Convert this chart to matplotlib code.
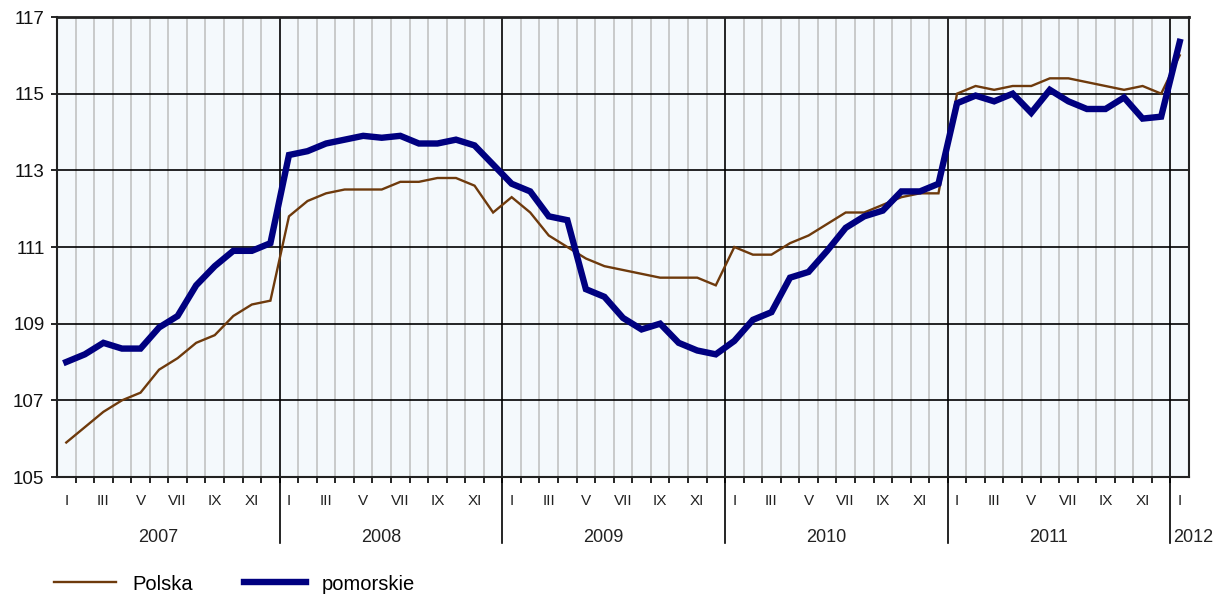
import matplotlib
matplotlib.use("Agg")
import matplotlib.pyplot as plt
from matplotlib.lines import Line2D

plt.rcParams['font.family'] = ['Liberation Sans', 'DejaVu Sans']

years = ["2007", "2008", "2009", "2010", "2011", "2012"]
months = ["I", "II", "III", "IV", "V", "VI", "VII", "VIII", "IX", "X", "XI", "XII"]

polska = [
    105.9, 106.3, 106.7, 107.0, 107.2, 107.8, 108.1, 108.5, 108.7, 109.2, 109.5, 109.6,
    111.8, 112.2, 112.4, 112.5, 112.5, 112.5, 112.7, 112.7, 112.8, 112.8, 112.6, 111.9,
    112.3, 111.9, 111.3, 111.0, 110.7, 110.5, 110.4, 110.3, 110.2, 110.2, 110.2, 110.0,
    111.0, 110.8, 110.8, 111.1, 111.3, 111.6, 111.9, 111.9, 112.1, 112.3, 112.4, 112.4,
    115.0, 115.2, 115.1, 115.2, 115.2, 115.4, 115.4, 115.3, 115.2, 115.1, 115.2, 115.0,
    116.0,
]
pomorskie = [
    108.0, 108.2, 108.5, 108.35, 108.35, 108.9, 109.2, 110.0, 110.5, 110.9, 110.9, 111.1,
    113.4, 113.5, 113.7, 113.8, 113.9, 113.85, 113.9, 113.7, 113.7, 113.8, 113.65, 113.15,
    112.65, 112.45, 111.8, 111.7, 109.9, 109.7, 109.15, 108.85, 109.0, 108.5, 108.3, 108.2,
    108.55, 109.1, 109.3, 110.2, 110.35, 110.9, 111.5, 111.8, 111.95, 112.45, 112.45, 112.65,
    114.75, 114.95, 114.8, 115.0, 114.5, 115.1, 114.8, 114.6, 114.6, 114.9, 114.35, 114.4,
    116.35,
]
y_ticks = [105, 107, 109, 111, 113, 115, 117]

n = len(polska)
x = list(range(n))
month_labels = [months[i % 12] for i in range(n)]

W, H = 1218, 594
fig = plt.figure(figsize=(W / 100, H / 100), dpi=100)
ax = fig.add_axes([57 / W, 1 - 477 / H, (1189 - 57) / W, (477 - 17) / H])
ax.set_facecolor('#F4F9FC')

ax.set_xlim(-0.5, n - 0.5)
ax.set_ylim(105, 117)

# month gridlines (gray) and year lines (black)
for b in range(n - 1):
    pos = b + 0.5
    if (b + 1) % 12 == 0:
        ax.axvline(pos, color='black', lw=1.2, zorder=1)
    else:
        ax.axvline(pos, color='#C8CACA', lw=1.4, zorder=0.5)

ax.set_yticks(y_ticks)
ax.yaxis.grid(True, color='black', lw=1.2, zorder=1)
ax.set_axisbelow(True)

ax.plot(x, polska, color='#6E3A0C', lw=1.7, zorder=3, label='Polska',
        solid_joinstyle='miter')
ax.plot(x, pomorskie, color='#000080', lw=4.6, zorder=4, label='pomorskie',
        solid_joinstyle='miter')

# x ticks: labels on odd months, small ticks at month boundaries
lab_pos = [i for i in range(n) if i % 2 == 0]
ax.set_xticks(lab_pos)
ax.set_xticklabels([month_labels[i] for i in lab_pos], fontsize=11, color='#222222')
ax.tick_params(axis='x', which='major', length=0, pad=12)
ax.set_xticks([b + 0.5 for b in range(n - 1)], minor=True)
ax.tick_params(axis='x', which='minor', length=4, width=1.2, color='black', direction='out')
ax.tick_params(axis='y', length=4, width=1.2, labelsize=13.5, pad=5, labelcolor='#111111')

for s in ax.spines.values():
    s.set_color('#222222')
    s.set_linewidth(1.5)
ax.spines['top'].set_linewidth(2)

# year separators below axis and year labels
trans = ax.get_xaxis_transform()
for k in range(1, len(years)):
    pos = 12 * k - 0.5
    ax.add_line(Line2D([pos, pos], [0, -0.1435], transform=trans, color='black',
                       lw=1.2, clip_on=False))
for k, yr in enumerate(years):
    if k < len(years) - 1:
        ax.text(12 * k + 4.95, -0.1305, yr, transform=trans, ha='center', va='center',
                fontsize=13, color='#222222')
    else:
        ax.text(12 * k - 0.35, -0.1305, yr, transform=trans, ha='left', va='center',
                fontsize=13, color='#222222')

fig.legend(loc='center left', bbox_to_anchor=(54 / W, 10 / H), ncol=2, frameon=False,
           fontsize=14.5, handlelength=3.1, handletextpad=0.8, columnspacing=2.5,
           borderpad=0, borderaxespad=0)

fig.savefig('out.png', dpi=100)
